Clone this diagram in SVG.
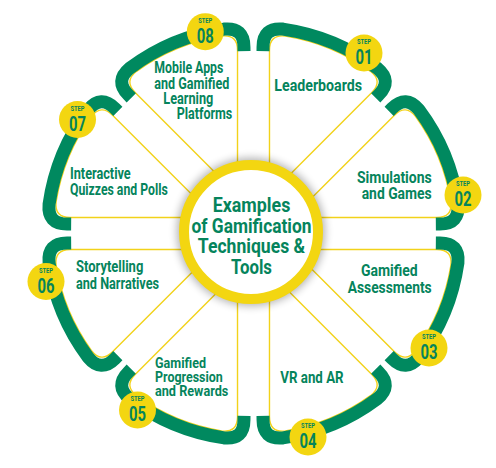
<svg xmlns="http://www.w3.org/2000/svg" width="496" height="468" viewBox="0 0 496 468">
<defs>
<style>
.pt{fill:#fff;stroke:#F2D21A;stroke-width:1.4;stroke-linejoin:round}
.bd{fill:none;stroke:#00895F;stroke-width:13;stroke-linecap:butt}
.sc{fill:#F3D611}
.t{font-family:Roboto,"Liberation Sans",sans-serif;font-weight:700;fill:#05845C;font-size:16px}
.s{font-family:Roboto,"Liberation Sans",sans-serif;font-weight:700;fill:#05845C;font-size:7.5px;text-anchor:middle}
.n{font-family:Roboto,"Liberation Sans",sans-serif;font-weight:700;fill:#05845C;font-size:20px;text-anchor:middle}
.h{font-family:Roboto,"Liberation Sans",sans-serif;font-weight:700;fill:#05845C;font-size:21px;text-anchor:middle}
</style>
<path id="petal" d="M0,-41.8 L-55.4,-175.5 Q-61.5,-190.3 -46,-194.6 A200,200 0 0 1 46,-194.6 Q61.5,-190.3 55.4,-175.5 Z"/>
<path id="band" d="M-61,-172.1 L-62.5,-175.8 Q-70.2,-194.2 -51.1,-200.1 A206.5,206.5 0 0 1 51.1,-200.1 Q70.2,-194.2 62.5,-175.8 L61,-172.1"/>
<filter id="sh" x="-30%" y="-30%" width="160%" height="160%"><feGaussianBlur stdDeviation="4"/></filter>
</defs>
<g id="petal-01">
<g transform="translate(253.5 233.5) rotate(22.5)"><use href="#petal" class="pt"/><use href="#band" class="bd"/></g>
<circle class="sc" cx="364" cy="53" r="18.5"/>
<text class="s" x="364" y="44" textLength="14" lengthAdjust="spacingAndGlyphs">STEP</text>
<text class="n" x="364" y="64" textLength="17" lengthAdjust="spacingAndGlyphs">01</text>
<text class="t" x="274.3" y="90.5" textLength="87.7" lengthAdjust="spacingAndGlyphs">Leaderboards</text>
</g>
<g id="petal-02">
<g transform="translate(253.5 233.5) rotate(67.5)"><use href="#petal" class="pt"/><use href="#band" class="bd"/></g>
<circle class="sc" cx="463" cy="195" r="18.5"/>
<text class="s" x="463" y="186" textLength="14" lengthAdjust="spacingAndGlyphs">STEP</text>
<text class="n" x="463" y="206" textLength="17" lengthAdjust="spacingAndGlyphs">02</text>
<text class="t" x="357" y="182.5" textLength="74.7" lengthAdjust="spacingAndGlyphs">Simulations</text>
<text class="t" x="361.7" y="199" textLength="70" lengthAdjust="spacingAndGlyphs">and Games</text>
</g>
<g id="petal-03">
<g transform="translate(253.5 233.5) rotate(112.5)"><use href="#petal" class="pt"/><use href="#band" class="bd"/></g>
<circle class="sc" cx="429" cy="348" r="18.5"/>
<text class="s" x="429" y="339" textLength="14" lengthAdjust="spacingAndGlyphs">STEP</text>
<text class="n" x="429" y="359" textLength="17" lengthAdjust="spacingAndGlyphs">03</text>
<text class="t" x="361" y="275.5" textLength="56.7" lengthAdjust="spacingAndGlyphs">Gamified</text>
<text class="t" x="347.7" y="293" textLength="84" lengthAdjust="spacingAndGlyphs">Assessments</text>
</g>
<g id="petal-04">
<g transform="translate(253.5 233.5) rotate(157.5)"><use href="#petal" class="pt"/><use href="#band" class="bd"/></g>
<circle class="sc" cx="308" cy="437" r="18.5"/>
<text class="s" x="308" y="428" textLength="14" lengthAdjust="spacingAndGlyphs">STEP</text>
<text class="n" x="308" y="448" textLength="17" lengthAdjust="spacingAndGlyphs">04</text>
<text class="t" x="280.3" y="383" textLength="63.3" lengthAdjust="spacingAndGlyphs">VR and AR</text>
</g>
<g id="petal-05">
<g transform="translate(253.5 233.5) rotate(202.5)"><use href="#petal" class="pt"/><use href="#band" class="bd"/></g>
<circle class="sc" cx="137.5" cy="410" r="18.5"/>
<text class="s" x="137.5" y="401" textLength="14" lengthAdjust="spacingAndGlyphs">STEP</text>
<text class="n" x="137.5" y="421" textLength="17" lengthAdjust="spacingAndGlyphs">05</text>
<text class="t" x="155" y="368" textLength="51" lengthAdjust="spacingAndGlyphs" style="font-size:15px">Gamified</text>
<text class="t" x="155" y="381.5" textLength="67.7" lengthAdjust="spacingAndGlyphs" style="font-size:15px">Progression</text>
<text class="t" x="155" y="395.5" textLength="73.3" lengthAdjust="spacingAndGlyphs" style="font-size:15px">and Rewards</text>
</g>
<g id="petal-06">
<g transform="translate(253.5 233.5) rotate(247.5)"><use href="#petal" class="pt"/><use href="#band" class="bd"/></g>
<circle class="sc" cx="46" cy="281.5" r="18.5"/>
<text class="s" x="46" y="272.5" textLength="14" lengthAdjust="spacingAndGlyphs">STEP</text>
<text class="n" x="46" y="292.5" textLength="17" lengthAdjust="spacingAndGlyphs">06</text>
<text class="t" x="76" y="271.7" textLength="67.3" lengthAdjust="spacingAndGlyphs">Storytelling</text>
<text class="t" x="76" y="289" textLength="83" lengthAdjust="spacingAndGlyphs">and Narratives</text>
</g>
<g id="petal-07">
<g transform="translate(253.5 233.5) rotate(292.5)"><use href="#petal" class="pt"/><use href="#band" class="bd"/></g>
<circle class="sc" cx="77.5" cy="119.5" r="18.5"/>
<text class="s" x="77.5" y="110.5" textLength="14" lengthAdjust="spacingAndGlyphs">STEP</text>
<text class="n" x="77.5" y="130.5" textLength="17" lengthAdjust="spacingAndGlyphs">07</text>
<text class="t" x="70" y="179" textLength="60.7" lengthAdjust="spacingAndGlyphs">Interactive</text>
<text class="t" x="70" y="194.5" textLength="97.7" lengthAdjust="spacingAndGlyphs">Quizzes and Polls</text>
</g>
<g id="petal-08">
<g transform="translate(253.5 233.5) rotate(337.5)"><use href="#petal" class="pt"/><use href="#band" class="bd"/></g>
<circle class="sc" cx="205.3" cy="31.7" r="18.5"/>
<text class="s" x="205.3" y="22.7" textLength="14" lengthAdjust="spacingAndGlyphs">STEP</text>
<text class="n" x="205.3" y="42.7" textLength="17" lengthAdjust="spacingAndGlyphs">08</text>
<text class="t" x="154.3" y="73.3" textLength="69" lengthAdjust="spacingAndGlyphs">Mobile Apps</text>
<text class="t" x="154.3" y="88.5" textLength="75" lengthAdjust="spacingAndGlyphs">and Gamified</text>
<text class="t" x="163.3" y="104" textLength="50" lengthAdjust="spacingAndGlyphs">Learning</text>
<text class="t" x="176.7" y="119.3" textLength="55.6" lengthAdjust="spacingAndGlyphs">Platforms</text>
</g>
<g id="center">
<circle cx="251" cy="232" r="74" fill="#000" opacity="0.3" filter="url(#sh)"/>
<circle cx="251" cy="232" r="67" fill="#fff" stroke="#F3D611" stroke-width="10"/>
<text class="h" x="251.5" y="212" textLength="77.7" lengthAdjust="spacingAndGlyphs">Examples</text>
<text class="h" x="251.5" y="232.5" textLength="120" lengthAdjust="spacingAndGlyphs">of Gamification</text>
<text class="h" x="251.5" y="253" textLength="107.3" lengthAdjust="spacingAndGlyphs">Techniques &amp;</text>
<text class="h" x="251.5" y="274" textLength="41" lengthAdjust="spacingAndGlyphs">Tools</text>
</g>
<g id="connectors"/>
</svg>
